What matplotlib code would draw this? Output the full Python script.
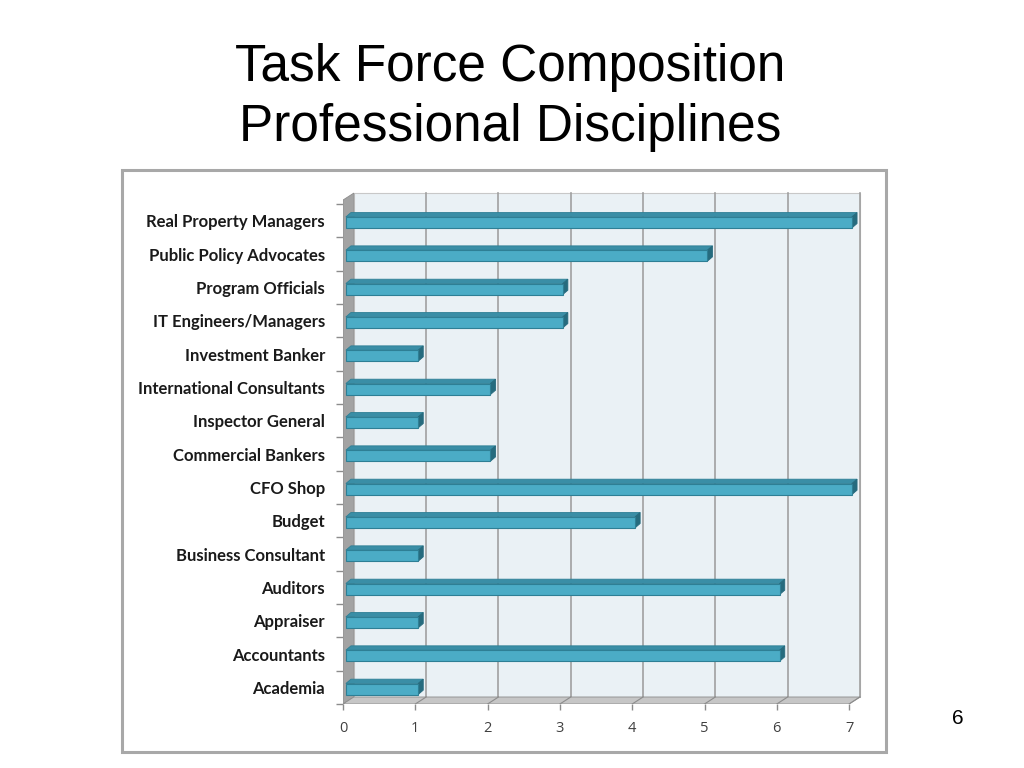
"""Task force composition: 3D-style horizontal bar chart of professional disciplines."""

import matplotlib
matplotlib.use("Agg")
import matplotlib.pyplot as plt
from matplotlib.patches import Rectangle, Polygon

# Data (bottom to top, as drawn)
disciplines = [
    "Academia", "Accountants", "Appraiser", "Auditors", "Business Consultant",
    "Budget", "CFO Shop", "Commercial Bankers", "Inspector General",
    "International Consultants", "Investment Banker", "IT Engineers/Managers",
    "Program Officials", "Public Policy Advocates", "Real Property Managers",
]
counts = [1, 6, 1, 6, 1, 4, 7, 2, 1, 2, 1, 3, 3, 5, 7]
x_ticks = [0, 1, 2, 3, 4, 5, 6, 7]

TITLE_1 = "Task Force Composition"
TITLE_2 = "Professional Disciplines"
PAGE = "6"

BAR_FRONT = "#4bacc6"
BAR_TOP = "#3a8ea6"
BAR_CAP = "#266b7e"
BAR_EDGE = "#2e7f95"
WALL = "#eaf1f5"
SIDE = "#a3a3a3"
FLOOR = "#c6c6c6"
GRID = "#a0a0a0"

W, H = 1024, 768
fig = plt.figure(figsize=(W / 100, H / 100), dpi=100)
fig.patch.set_facecolor("white")

# picture frame around the pasted chart (own background axes)
bg = fig.add_axes([0, 0, 1, 1], zorder=-5)
bg.set_xlim(0, W)
bg.set_ylim(H, 0)
bg.axis("off")
bg.add_patch(Rectangle((122, 170), 886 - 122, 752 - 170, facecolor="white",
                       edgecolor="#a8a8a8", linewidth=2.2))

fig.text(510 / W, 1 - 68 / H, TITLE_1, ha="center", va="center", fontsize=37,
         family="Liberation Sans", color="black")
fig.text(510 / W, 1 - 128 / H, TITLE_2, ha="center", va="center", fontsize=37,
         family="Liberation Sans", color="black")
fig.text(958 / W, 1 - 718 / H, PAGE, ha="center", va="center", fontsize=15,
         family="Liberation Sans")

# axes: x=0 at px 343, 72.3 px per unit; front floor edge at px 704, 33.33 px per row
left_px, right_px, bot_px, top_px = 343, 872, 704, 186
ax = fig.add_axes([left_px / W, 1 - bot_px / H, (right_px - left_px) / W, (bot_px - top_px) / H])
xmax = (right_px - left_px) / 72.3
y0 = -0.5
ymax = y0 + (bot_px - top_px) / 33.33
ax.set_xlim(0, xmax)
ax.set_ylim(y0, ymax)
ax.patch.set_visible(False)
for s in ax.spines.values():
    s.set_visible(False)

dx = 0.15         # depth offset of back wall
dy_back = y0 + 0.21
wall_top = 14.83
nmax = x_ticks[-1]

# back wall, left wall, floor
ax.add_patch(Rectangle((dx, dy_back), nmax, wall_top - dy_back, facecolor=WALL,
                       edgecolor="#c8c8c8", linewidth=0.8, zorder=1))
ax.add_patch(Polygon([(0, y0), (0, wall_top - 0.21), (dx, wall_top), (dx, dy_back)],
                     closed=True, facecolor=SIDE, edgecolor="#8c8c8c", linewidth=0.6, zorder=2))
ax.add_patch(Polygon([(0, y0), (nmax, y0), (nmax + dx, dy_back), (dx, dy_back)],
                     closed=True, facecolor=FLOOR, edgecolor="#8c8c8c", linewidth=0.6, zorder=2))
for k in x_ticks[1:]:
    ax.plot([k + dx, k + dx], [dy_back, wall_top], color=GRID, lw=1.2, zorder=1.5)
    ax.plot([k, k + dx], [y0, dy_back], color="#8c8c8c", lw=0.8, zorder=2.5)

# bars with a top face and end cap for the 3D look
h = 0.33
off = 0.05        # front face sits a little below the row centre
x_start = 0.04
bdx, bdy = 0.07, 0.13
for i, v in enumerate(counts):
    lo, hi = i - off - h / 2, i - off + h / 2
    xe = x_start + v
    ax.add_patch(Polygon([(x_start, hi), (xe, hi), (xe + bdx, hi + bdy), (x_start + bdx, hi + bdy)],
                         closed=True, facecolor=BAR_TOP, edgecolor=BAR_EDGE, lw=0.6, zorder=4))
    ax.add_patch(Polygon([(xe, lo), (xe + bdx, lo + bdy), (xe + bdx, hi + bdy), (xe, hi)],
                         closed=True, facecolor=BAR_CAP, edgecolor=BAR_CAP, lw=0.6, zorder=4))
ax.barh([i - off for i in range(len(counts))], counts, height=h, left=x_start,
        color=BAR_FRONT, edgecolor=BAR_EDGE, linewidth=0.8, zorder=5)

# ticks and labels
ax.set_yticks(range(len(disciplines)))
ax.set_yticklabels(disciplines, family="Lato", fontweight="bold", fontsize=12, color="#1a1a1a")
ax.set_yticks([i - 0.5 for i in range(len(disciplines) + 1)], minor=True)
ax.tick_params(axis="y", which="major", length=0, pad=13)
ax.tick_params(axis="y", which="minor", length=5, color="#8c8c8c", width=1)
ax.set_xticks(x_ticks)
ax.set_xticklabels([str(t) for t in x_ticks], family="Open Sans", fontsize=10.5, color="#404040")
ax.tick_params(axis="x", length=4, color="#8c8c8c", width=1, pad=8)

fig.savefig("out.png", dpi=100)
